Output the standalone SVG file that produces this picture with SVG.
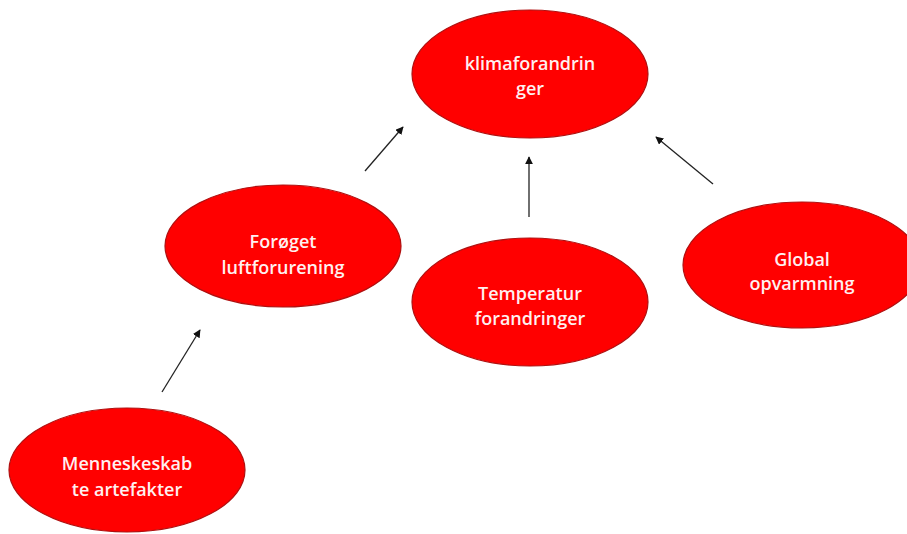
<svg xmlns="http://www.w3.org/2000/svg" width="907" height="534" viewBox="0 0 907 534">
<style>
.node ellipse{fill:#ff0000;stroke:#b01010;stroke-width:1.2}
.node text{font-family:"Open Sans","Liberation Sans",sans-serif;font-size:18px;font-weight:600;fill:#fff0f0;text-anchor:middle}
.edges line{stroke:#222;stroke-width:1.3;marker-end:url(#ah)}
</style>
<defs>
<marker id="ah" viewBox="0 0 10 10" refX="9" refY="5" markerWidth="8" markerHeight="8" markerUnits="userSpaceOnUse" orient="auto">
<path d="M0,0 L10,5 L0,10 z" fill="#111"/>
</marker>
</defs>
<rect width="907" height="534" fill="#fff"/>
<g class="edges">
<line x1="365" y1="171" x2="403" y2="127"/>
<line x1="529" y1="217" x2="529" y2="157"/>
<line x1="713" y1="184" x2="656" y2="137"/>
<line x1="162" y1="392" x2="200" y2="330"/>
</g>
<g id="klima" class="node">
<ellipse cx="530" cy="74" rx="118" ry="64"/>
<text x="530" y="70">klimaforandrin</text>
<text x="530" y="95">ger</text>
</g>
<g id="luft" class="node">
<ellipse cx="283" cy="246" rx="118" ry="61"/>
<text x="283" y="248">Forøget</text>
<text x="283" y="274">luftforurening</text>
</g>
<g id="temp" class="node">
<ellipse cx="530" cy="302" rx="118" ry="64"/>
<text x="530" y="300">Temperatur</text>
<text x="530" y="325">forandringer</text>
</g>
<g id="global" class="node">
<ellipse cx="802" cy="265" rx="119" ry="63"/>
<text x="802" y="266">Global</text>
<text x="802" y="290">opvarmning</text>
</g>
<g id="menneske" class="node">
<ellipse cx="127" cy="470" rx="118" ry="62"/>
<text x="127" y="470">Menneskeskab</text>
<text x="127" y="496">te artefakter</text>
</g>
</svg>
